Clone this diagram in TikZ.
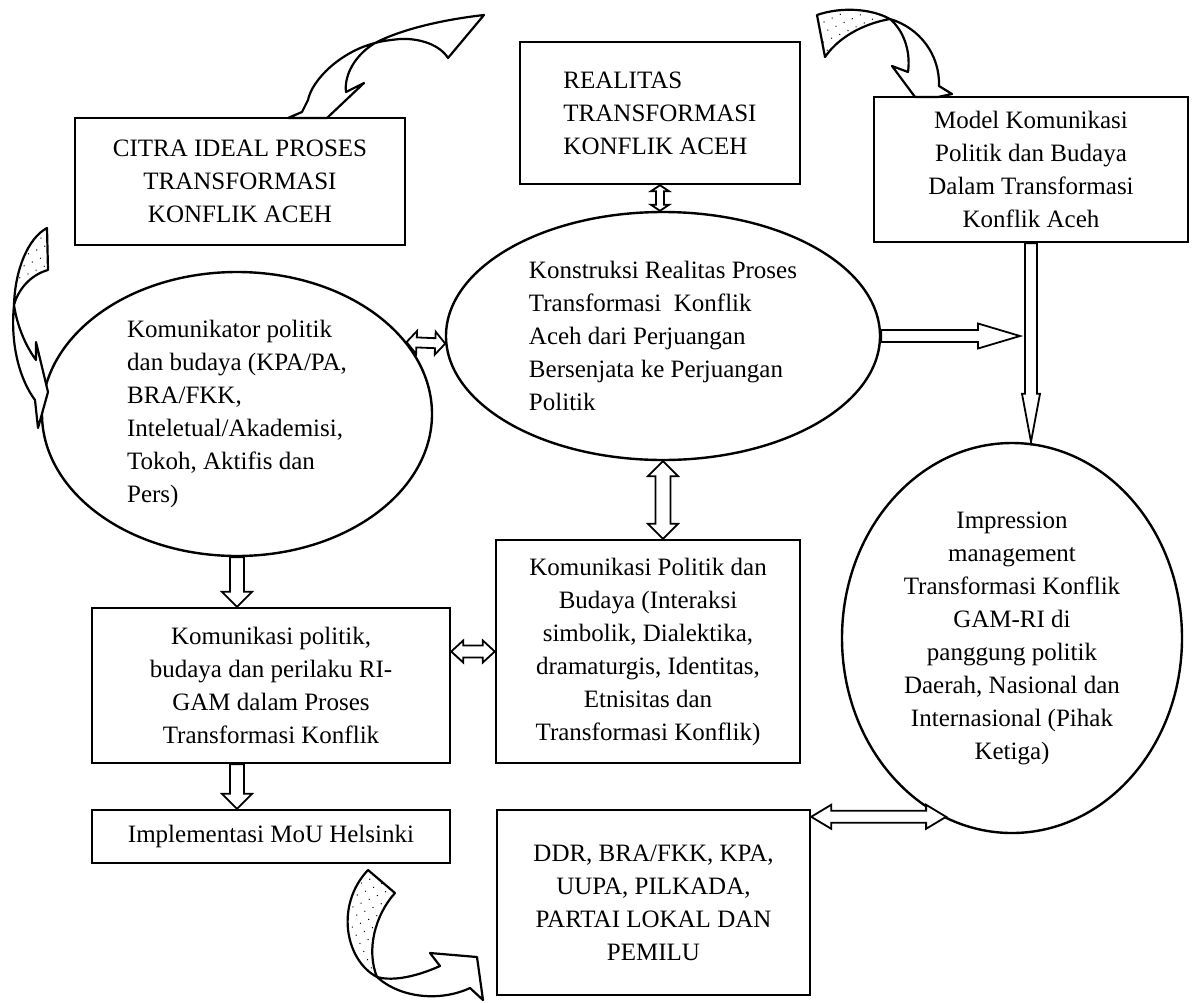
\documentclass[tikz,border=0pt]{standalone}
\usepackage{fontspec}
\setmainfont{Liberation Serif}
\usetikzlibrary{shapes.geometric,calc,patterns.meta}

\newcommand{\diagfont}{\fontsize{12.5}{16.5}\selectfont}

\tikzset{
  outline/.style={draw=black, line width=1.2pt},
  textbox/.style={outline, rectangle, inner sep=0pt, align=center, font=\diagfont},
  oval/.style={outline, ellipse, inner sep=0pt, align=center, font=\diagfont},
  blockarrow/.style={draw=black, line width=0.9pt, fill=white, line join=miter},
  ribbon/.style={draw=black, line width=1.1pt, fill=white, line join=round},
  speckled/.style={draw=black, line width=1.1pt, line join=round,
    pattern={Dots[radius=0.35pt,distance=4.5pt,angle=25]}},
}

% hollow block arrow: from #1 to #2, shaft half width #3, head half width #4, head length #5
\newcommand{\singlearrow}[5]{%
  \coordinate (sa-s) at (#1);
  \coordinate (sa-e) at (#2);
  \coordinate (sa-h) at ($(sa-e)!#5!(sa-s)$);
  \draw[blockarrow] ($(sa-s)!#3!90:(sa-e)$) -- ($(sa-h)!#3!90:(sa-e)$)
    -- ($(sa-h)!#4!90:(sa-e)$) -- (sa-e) -- ($(sa-h)!#4!-90:(sa-e)$)
    -- ($(sa-h)!#3!-90:(sa-e)$) -- ($(sa-s)!#3!-90:(sa-e)$) -- cycle;
}
% hollow block arrow with a head at both ends
\newcommand{\doublearrow}[5]{%
  \coordinate (da-s) at (#1);
  \coordinate (da-e) at (#2);
  \coordinate (da-a) at ($(da-s)!#5!(da-e)$);
  \coordinate (da-b) at ($(da-e)!#5!(da-s)$);
  \draw[blockarrow] (da-s) -- ($(da-a)!#4!90:(da-e)$) -- ($(da-a)!#3!90:(da-e)$)
    -- ($(da-b)!#3!90:(da-e)$) -- ($(da-b)!#4!90:(da-e)$) -- (da-e)
    -- ($(da-b)!#4!-90:(da-e)$) -- ($(da-b)!#3!-90:(da-e)$)
    -- ($(da-a)!#3!-90:(da-e)$) -- ($(da-a)!#4!-90:(da-e)$) -- cycle;
}

\begin{document}
\begin{tikzpicture}[x=0.5pt, y=-0.5pt]
\useasboundingbox (0,0) rectangle (1194,1002);
\fill[white] (0,0) rectangle (1194,1002);

% boxes and ovals
\node[textbox, minimum width=165pt, minimum height=63.5pt] (citra) at (240,181.5)
  {CITRA IDEAL PROSES\\TRANSFORMASI\\KONFLIK ACEH};
\node[textbox, align=left, minimum width=140pt, minimum height=71pt] (realitas) at (660,113)
  {REALITAS\\TRANSFORMASI\\KONFLIK ACEH};
\node[textbox, minimum width=157pt, minimum height=72.5pt] (model) at (1031,169.5)
  {Model Komunikasi\\Politik dan Budaya\\Dalam Transformasi\\Konflik Aceh};
\node[oval, align=left, minimum width=217pt, minimum height=124pt] (konstruksi) at (663,336)
  {Konstruksi Realitas Proses\\Transformasi~~Konflik\\Aceh dari Perjuangan\\Bersenjata ke Perjuangan\\Politik};
\node[oval, align=left, minimum width=195pt, minimum height=142pt] (komunikator) at (237,414)
  {Komunikator politik\\dan budaya (KPA/PA,\\BRA/FKK,\\Inteletual/Akademisi,\\Tokoh, Aktifis dan\\Pers)};
\node[textbox, minimum width=179pt, minimum height=77.5pt] (kompol) at (271,685.5)
  {Komunikasi politik,\\budaya dan perilaku RI-\\GAM dalam Proses\\Transformasi Konflik};
\node[textbox, minimum width=152pt, minimum height=111.5pt] (kpb) at (648,651.5)
  {Komunikasi Politik dan\\Budaya (Interaksi\\simbolik, Dialektika,\\dramaturgis, Identitas,\\Etnisitas dan\\Transformasi Konflik)};
\node[oval, minimum width=170pt, minimum height=195pt] (impression) at (1012,638)
  {Impression\\management\\Transformasi Konflik\\GAM-RI di\\panggung politik\\Daerah, Nasional dan\\Internasional (Pihak\\Ketiga)};
\node[textbox, minimum width=179pt, minimum height=26.5pt] (implementasi) at (271,836.5)
  {Implementasi MoU Helsinki};
\node[textbox, minimum width=156.5pt, minimum height=92.5pt] (ddr) at (653.5,902.5)
  {DDR, BRA/FKK, KPA,\\UUPA, PILKADA,\\PARTAI LOKAL DAN\\PEMILU};

% straight block arrows
\doublearrow{realitas.south}{realitas.south |- konstruksi.north}{2pt}{4.5pt}{3pt}
\doublearrow{komunikator.23}{konstruksi.182}{2.5pt}{5.75pt}{5pt}
\coordinate (vjoin) at ($(konstruksi.east -| model.south)+(-5.5pt,0)$);
\singlearrow{konstruksi.east}{vjoin}{3pt}{6.25pt}{21pt}
\singlearrow{model.south}{model.south |- impression.north}{3pt}{4.5pt}{24pt}
\doublearrow{konstruksi.south}{konstruksi.south |- kpb.north}{3.75pt}{7.5pt}{7.5pt}
\singlearrow{komunikator.south}{komunikator.south |- kompol.north}{3.5pt}{7.5pt}{7.5pt}
\singlearrow{kompol.south -| komunikator.south}{implementasi.north -| komunikator.south}{3.5pt}{7.5pt}{7.5pt}
\doublearrow{kpb.west -| kompol.east}{kpb.west}{3pt}{5.5pt}{6pt}
\coordinate (ddrjoin) at ($(ddr.north east)+(0,-4pt)$);
\doublearrow{ddrjoin}{impression.250 |- ddrjoin}{3pt}{6pt}{10pt}

% curved ribbon arrows
% top left, bending down onto the CITRA box
\draw[ribbon] (375,43) .. controls (400,30) and (440,20) .. (484,15) -- (448,58)
  .. controls (440,45) and (420,38) .. (400,39) .. controls (390,40) and (382,41) .. (375,43) -- cycle;
\draw[ribbon] (375,43) .. controls (340,52) and (312,80) .. (308,100) -- (302,112) -- (288,118)
  -- (327,118) -- (364,83) -- (346,92) .. controls (344,75) and (355,55) .. (375,43) -- cycle;
% top right, bending down onto the model box
\draw[speckled] (890,19) .. controls (870,8) and (840,7) .. (817,15) -- (825,57)
  .. controls (838,38) and (862,24) .. (890,19) -- cycle;
\draw[ribbon] (890,19) .. controls (920,28) and (940,55) .. (939,86) -- (952,94) -- (938,97)
  -- (915,97) -- (892,66) -- (908,72) .. controls (911,50) and (903,30) .. (890,19) -- cycle;
% left, bending down onto the communicator oval
\draw[speckled] (14,305) .. controls (15,270) and (28,238) .. (47,228) -- (48,270)
  .. controls (30,275) and (18,290) .. (14,305) -- cycle;
\draw[ribbon] (14,305) .. controls (10,345) and (20,380) .. (35,400) -- (38,428) -- (48,392)
  -- (36,342) -- (36,360) .. controls (25,345) and (17,325) .. (14,305) -- cycle;
% bottom, curling away to the right
\draw[speckled] (377,977) .. controls (345,960) and (335,905) .. (368,870) -- (395,893)
  .. controls (375,915) and (366,950) .. (377,977) -- cycle;
\draw[ribbon] (377,977) .. controls (395,982) and (420,975) .. (440,966) -- (430,953) -- (477,957)
  -- (483,1000) -- (470,988) .. controls (440,1002) and (400,998) .. (377,977) -- cycle;
\end{tikzpicture}
\end{document}
